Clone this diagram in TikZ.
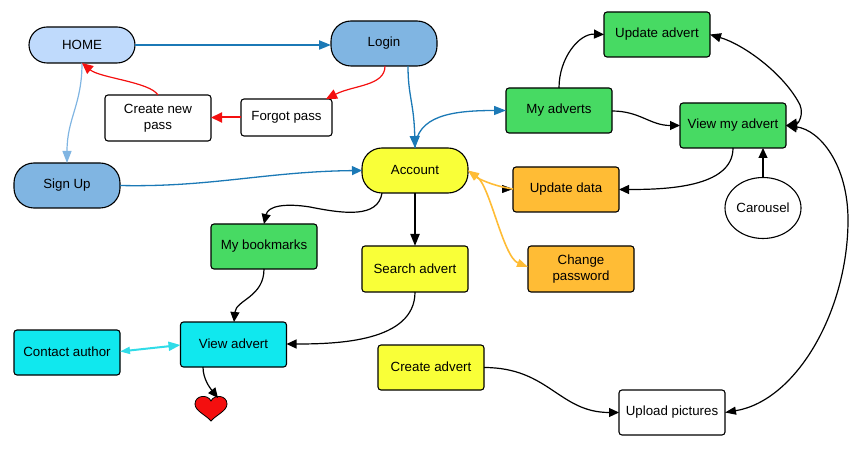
\documentclass[tikz,border=0pt]{standalone}
\usepackage{fontspec}
\setmainfont{Liberation Sans}
\usetikzlibrary{arrows.meta,shapes.geometric}
\definecolor{cHome}{HTML}{BFDAFC}
\definecolor{cBlue}{HTML}{80B5E2}
\definecolor{cLine}{HTML}{1B79B6}
\definecolor{cYellow}{HTML}{F9FF38}
\definecolor{cGreen}{HTML}{47DA63}
\definecolor{cOrange}{HTML}{FFBC35}
\definecolor{cCyan}{HTML}{10E8EE}
\definecolor{cRed}{HTML}{F40F0F}
\definecolor{cCyanLine}{HTML}{30DCE8}
\newcommand{\upT}[1]{\raisebox{0.9pt}{#1}}
\newcommand{\dnT}[1]{\raisebox{-0.9pt}{#1}}
\tikzset{
  x=1pt,y=-1pt,
  basebox/.style={draw=black,line width=1.1pt,inner sep=0pt,outer sep=0pt,align=center,
    font=\fontsize{13.3}{16.3}\selectfont,minimum width=106pt,minimum height=45pt,rounded corners=3pt},
  pillbox/.style={basebox,rounded corners=20pt},
  bluepill/.style={pillbox,fill=cBlue},
  plainbox/.style={basebox,fill=white},
  greenbox/.style={basebox,fill=cGreen},
  orangebox/.style={basebox,fill=cOrange},
  yellowbox/.style={basebox,fill=cYellow},
  cyanbox/.style={basebox,fill=cCyan},
  tipk/.style={-{Triangle[length=10pt,width=9pt]}},
  conn/.style={line width=1.2pt,black,tipk},
  blueconn/.style={line width=1.3pt,cLine,tipk},
  redconn/.style={line width=1.2pt,cRed,tipk},
  orangeconn/.style={line width=1.6pt,cOrange}
}
\begin{document}
\begin{tikzpicture}
\useasboundingbox (0,0) rectangle (864,454);
\node[pillbox,fill=cHome,minimum height=36pt,rounded corners=18pt] (home) at (82,45) {HOME};
\node[bluepill] (login) at (384,43.5) {\dnT{Login}};
\node[bluepill] (signup) at (67,185.5) {Sign Up};
\node[pillbox,fill=cYellow] (account) at (415,170.5) {\upT{Account}};
\node[plainbox,minimum height=46pt] (create) at (158,118) {Create new\\pass};
\node[plainbox,minimum width=91pt,minimum height=37pt] (forgot) at (286.5,117.5) {\dnT{Forgot pass}};
\node[greenbox] (update) at (657,34.5) {Update advert};
\node[greenbox] (myadverts) at (559,110.5) {My adverts};
\node[greenbox] (viewmy) at (733,125.5) {\dnT{View my advert}};
\node[orangebox] (updatedata) at (566,189.5) {Update data};
\node[draw=black,line width=1.1pt,fill=white,ellipse,inner sep=0pt,outer sep=0pt,minimum width=76pt,minimum height=61pt,font=\fontsize{13.3}{16.3}\selectfont] (carousel) at (763,208) {Carousel};
\node[orangebox,minimum height=46pt] (changepw) at (581,269) {Change\\password};
\node[yellowbox,minimum height=46pt] (search) at (415,269) {\upT{Search advert}};
\node[greenbox] (bookmarks) at (264,246.5) {\dnT{My bookmarks}};
\node[cyanbox] (viewadvert) at (233.5,344.5) {\upT{View advert}};
\node[cyanbox] (contact) at (67,352.5) {\upT{Contact author}};
\node[yellowbox] (createadvert) at (431,367.5) {\upT{Create advert}};
\node[plainbox] (upload) at (672,412.5) {\dnT{Upload pictures}};
\coordinate (hearttop) at (218,398);
\draw[fill=cRed,draw=black,line width=0.8pt] (211,421) .. controls (206,415) and (195,411) .. (195,404)
  .. controls (195,395) and (208,394) .. (211,401) .. controls (214,394) and (227,395) .. (227,404)
  .. controls (227,411) and (216,415) .. (211,421) -- cycle;
% blue
\draw[blueconn,line width=2pt,-{Triangle[length=12pt,width=9pt]}] (home.east) -- ([yshift=-1.5pt]login.west);
\draw[blueconn,-{Triangle[length=12pt,width=10pt]}] ([xshift=24pt]login.south) .. controls +(0,30) and +(-1,-45) .. (account.north);
\draw[blueconn,-{Triangle[length=12pt,width=9pt]}] (account.north) .. controls +(2,-32) and +(-55,0) .. (myadverts.west);
\draw[blueconn] (signup.east) .. controls +(90,2) and +(-95,1) .. (account.west);
\draw[line width=1.2pt,cBlue,-{Triangle[length=12pt,width=9pt]}] (home.south) .. controls +(0,42) and +(0,-45) .. (signup.north);
% red
\draw[redconn,-{Triangle[length=11pt,width=10pt]}] ([xshift=1pt]login.south) .. controls +(0,20) and +(28,-14) .. ([xshift=-6pt]forgot.north east);
\draw[redconn,line width=2pt,-{Triangle[length=11pt,width=10pt]}] (forgot.west) -- (create.east |- forgot.west);
\draw[redconn,-{Triangle[length=11pt,width=10pt]}] (create.north) .. controls +(-8,-13) and +(18,15) .. (home.south);
% black
\draw[conn] ([xshift=0pt]myadverts.north) .. controls +(0,-30) and +(-25,-1) .. (update.west);
\draw[conn] ([yshift=-0.5pt]myadverts.east) .. controls +(28,0) and +(-30,0) .. (viewmy.west);
\draw[conn,{Triangle[length=11pt,width=9pt]}-{Triangle[length=11pt,width=11pt]}] (update.east) .. controls (745,45) and (785,75) .. (800,105) .. controls (804,115) and (798,124) .. (viewmy.east);
\draw[conn] (viewmy.south) .. controls +(0,40) and +(45,0) .. (updatedata.east);
\draw[conn] (carousel.north) -- (viewmy.south -| carousel.north);
\draw[conn,{Triangle[length=11pt,width=8pt]}-{Triangle[length=11pt,width=11pt]}] (upload.east) .. controls +(72,-12) and +(0,90) .. (848,220) .. controls (848,165) and (820,130) .. (viewmy.east);
\draw[conn,line width=2pt,-{Triangle[length=12pt,width=9pt]}] (account.south) -- (search.north);
\draw[conn] ([xshift=-33pt]account.south) .. controls (378,218) and (345,214) .. (310,207) .. controls (285,203) and (268,206) .. (bookmarks.north);
\draw[conn] (bookmarks.south) .. controls +(0,28) and +(2,-22) .. ([xshift=0.5pt]viewadvert.north);
\draw[conn] (search.south) .. controls +(0,50) and +(50,0) .. ([yshift=0.5pt]viewadvert.east);
\draw[conn] ([xshift=-30.5pt]viewadvert.south) .. controls +(0,12) and +(-8,-10) .. (hearttop);
\draw[conn] (createadvert.east) .. controls +(65,0) and +(-60,0) .. (upload.west);
% orange
\draw[line width=0.4pt,black,-{Triangle[length=11pt,width=8pt]}] ([xshift=-11pt,yshift=0.5pt]updatedata.west) -- ([yshift=0.5pt]updatedata.west);
\draw[orangeconn,-{Triangle[length=11pt,width=8pt]}] ([yshift=0.5pt]updatedata.west) .. controls +(-20,-3) and +(10,8) .. (account.east);
\draw[orangeconn,{Triangle[length=11pt,width=8pt]}-{Triangle[length=11pt,width=8pt]}] (account.east) .. controls +(22,15) and +(-25,-10) .. ([yshift=2pt]changepw.west);
% cyan
\draw[line width=2pt,cCyanLine,{Triangle[length=10pt,width=7pt]}-{Triangle[length=12pt,width=9pt]}] ([yshift=1pt]contact.east) -- ([yshift=-0.5pt]viewadvert.west);
\end{tikzpicture}
\end{document}
